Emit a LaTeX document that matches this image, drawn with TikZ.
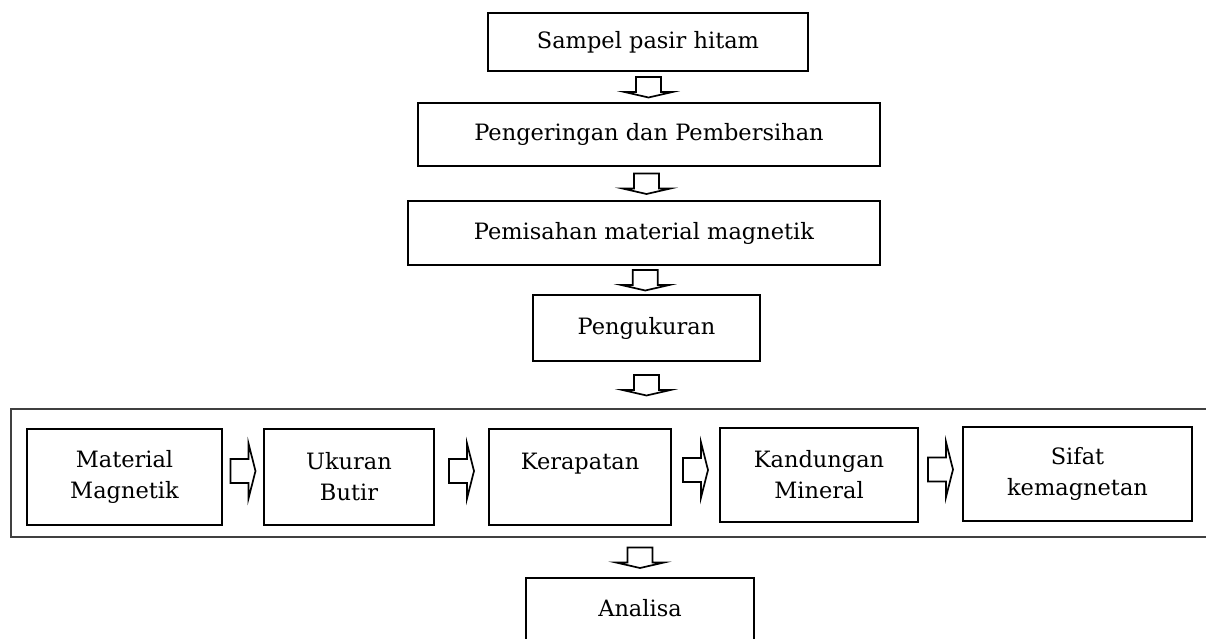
\documentclass[tikz,border=0pt]{standalone}
\usepackage{fontspec}
\setmainfont{DejaVu Serif}
\usetikzlibrary{calc}
\tikzset{
  box/.style={draw=black, line width=2pt, rectangle, inner sep=0pt, outer sep=0pt, align=center,
    font=\fontsize{22.5}{31}\selectfont},
  openbox/.style={draw=none, rectangle, inner sep=0pt, outer sep=0pt, align=center,
    font=\fontsize{22.5}{31}\selectfont},
  arrline/.style={draw=black, fill=white, line width=1.7pt, line join=miter},
  darr/.pic={\draw[arrline] (-12.5,-10) -- (12.5,-10) -- (12.5,5) -- (24,5) -- (0,10.5) -- (-24,5) -- (-12.5,5) -- cycle;},
  rarr/.pic={\draw[arrline] (-12.5,-12) -- (5.5,-12) -- (5.5,-27.5) -- (12.5,0) -- (5.5,27.5) -- (5.5,12) -- (-12.5,12) -- cycle;}
}
\begin{document}
\begin{tikzpicture}[x=1pt, y=-1pt]
\useasboundingbox (0,0) rectangle (1206,639);
% top column
\node[box, minimum width=320, minimum height=58] (b1) at (648,42) {Sampel pasir hitam};
\node[box, minimum width=462, minimum height=63] (b2) at (649,134.5) {Pengeringan dan Pembersihan};
\node[box, minimum width=472, minimum height=64] (b3) at (644,233) {Pemisahan material magnetik};
\node[box, minimum width=227, minimum height=66] (b4) at (646.5,328) {Pengukuran};
% outer frame (open on the right)
\node[openbox, minimum width=1195, minimum height=128] (frame) at (608.5,473) {};
\draw[line width=1.6pt, draw=black!75] (frame.north east) -- (frame.north west) -- (frame.south west) -- (frame.south east);
% inner boxes
\node[box, minimum width=195, minimum height=96] (m1) at (124.5,477) {Material\\Magnetik};
\node[box, minimum width=170, minimum height=96] (m2) at (349,477) {Ukuran\\Butir};
\node[box, minimum width=182, minimum height=96] (m3) at (580,477) {Kerapatan\\\phantom{X}};
\node[box, minimum width=198, minimum height=94] (m4) at (819,475) {Kandungan\\Mineral};
\node[box, minimum width=229, minimum height=94] (m5) at (1077.5,474) {Sifat\\kemagnetan};
% last box (bottom edge outside the picture)
\node[openbox, minimum width=228, minimum height=61] (an) at (640,608.5) {Analisa};
\draw[line width=2pt] (an.south west) -- (an.north west) -- (an.north east) -- (an.south east);
% down arrows
\pic at ($(b1.south)!0.5!(b2.north)$) {darr};
\pic at ($(b2.south)!0.5!(b3.north)$) {darr};
\pic at ($(b3.south)!0.5!(b4.north)$) {darr};
\pic at ($(b4.south)!0.5!(b4.south |- frame.north)$) {darr};
\pic at ($(an.north)!0.5!(an.north |- frame.south)$) {darr};
% right arrows
\pic at ($(m1.east)!0.5!(m2.west) + (0,-6)$) {rarr};
\pic at ($(m2.east)!0.5!(m3.west) + (0,-6)$) {rarr};
\pic at ($(m3.east)!0.5!(m4.west) + (0,-6)$) {rarr};
\pic at ($(m4.east)!0.5!(m5.west) + (0,-5)$) {rarr};
\end{tikzpicture}
\end{document}
